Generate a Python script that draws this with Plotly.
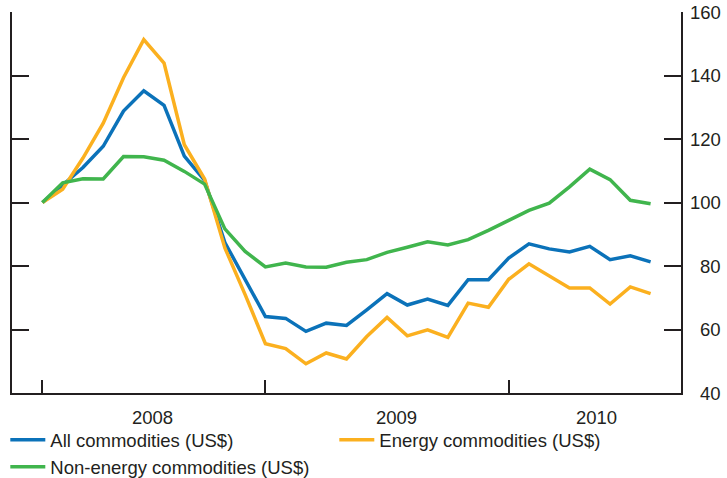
import plotly.graph_objects as go

months = [
    "Jan 2008", "Feb 2008", "Mar 2008", "Apr 2008", "May 2008", "Jun 2008",
    "Jul 2008", "Aug 2008", "Sep 2008", "Oct 2008", "Nov 2008", "Dec 2008",
    "Jan 2009", "Feb 2009", "Mar 2009", "Apr 2009", "May 2009", "Jun 2009",
    "Jul 2009", "Aug 2009", "Sep 2009", "Oct 2009", "Nov 2009", "Dec 2009",
    "Jan 2010", "Feb 2010", "Mar 2010", "Apr 2010", "May 2010", "Jun 2010",
    "Jul 2010",
]

all_commodities = [
    100, 105.5, 111, 117.7, 128.8, 135.2, 130.6, 114.6, 107, 87.4, 75.7, 64.1,
    63.5, 59.4, 62.0, 61.3, 66.2, 71.3, 67.7, 69.6, 67.6, 75.7, 75.7, 82.5,
    87.0, 85.4, 84.4, 86.2, 82.0, 83.2, 81.3,
]
energy = [
    100, 104.2, 114, 125, 139.3, 151.3, 143.9, 118.2, 107.4, 85.7, 71.0, 55.5,
    54.0, 49.2, 52.6, 50.7, 57.8, 63.8, 58.0, 59.9, 57.5, 68.3, 67.0, 75.8,
    80.7, 77.0, 73.1, 73.1, 68.0, 73.4, 71.3,
]
non_energy = [
    100, 106.2, 107.5, 107.4, 114.5, 114.4, 113.3, 109.8, 105.8, 91.7, 84.6, 79.7,
    80.9, 79.7, 79.6, 81.2, 82.0, 84.3, 85.9, 87.6, 86.6, 88.3, 91.2, 94.5,
    97.5, 99.8, 104.9, 110.5, 107.2, 100.7, 99.6,
]

year_labels = ["2008", "2009", "2010"]
year_label_pos = [5.45, 17.45, 27.35]
year_ticks = [months[0], months[11], months[23]]
y_ticks = [40, 60, 80, 100, 120, 140, 160]

INK = "#231f20"
FONT = "Liberation Sans, Arial, sans-serif"

fig = go.Figure()
for name, values, color in (
    ("All commodities (US$)", all_commodities, "#0b72b9"),
    ("Energy commodities (US$)", energy, "#fbb01f"),
    ("Non-energy commodities (US$)", non_energy, "#40b54d"),
):
    fig.add_trace(go.Scatter(x=months, y=values, mode="lines", name=name,
                             line=dict(color=color, width=3.5)))

for label, pos in zip(year_labels, year_label_pos):
    fig.add_annotation(x=pos, y=-0.063, xref="x", yref="paper", text=label,
                       showarrow=False, yanchor="middle",
                       font=dict(size=18.5, color=INK, family=FONT))

# right-aligned value labels next to the right axis
for v in y_ticks:
    fig.add_annotation(x=1, xref="paper", xshift=42, xanchor="right",
                       y=v, yref="y", yanchor="middle", text=str(v),
                       showarrow=False, font=dict(size=18.5, color=INK, family=FONT))

# figure is taller than the window so the two-row legend is not pushed up;
# only the top 478px are on screen
fig.update_layout(
    width=727,
    height=540,
    margin=dict(l=12, r=46, t=12, b=147, autoexpand=False),
    paper_bgcolor="white",
    plot_bgcolor="white",
    font=dict(family=FONT, size=18.5, color=INK),
    showlegend=True,
    legend=dict(orientation="h", x=-0.01, xanchor="left", y=-0.0738, yanchor="top",
                entrywidth=279, entrywidthmode="pixels", itemwidth=35,
                tracegroupgap=0, font=dict(size=18.5, color=INK, family=FONT)),
)
fig.update_xaxes(
    type="category", range=[-1.5, 31.5], showgrid=False, zeroline=False,
    showline=True, linecolor=INK, linewidth=2,
    ticks="inside", ticklen=13, tickwidth=2, tickcolor=INK,
    tickvals=year_ticks, ticktext=["" for _ in year_ticks],
)
fig.update_yaxes(
    side="right", range=[40, 160], showgrid=False, zeroline=False,
    showline=True, linecolor=INK, linewidth=2, mirror="ticks",
    ticks="inside", ticklen=17, tickwidth=2, tickcolor=INK,
    tickvals=y_ticks, showticklabels=False,
)

# the page body keeps its default 8px margin (and would scroll) unless reset
fig.write_html("out.html", config={"displayModeBar": False},
               post_script="document.body.style.margin = '0';"
                           "document.body.style.overflow = 'hidden';")
